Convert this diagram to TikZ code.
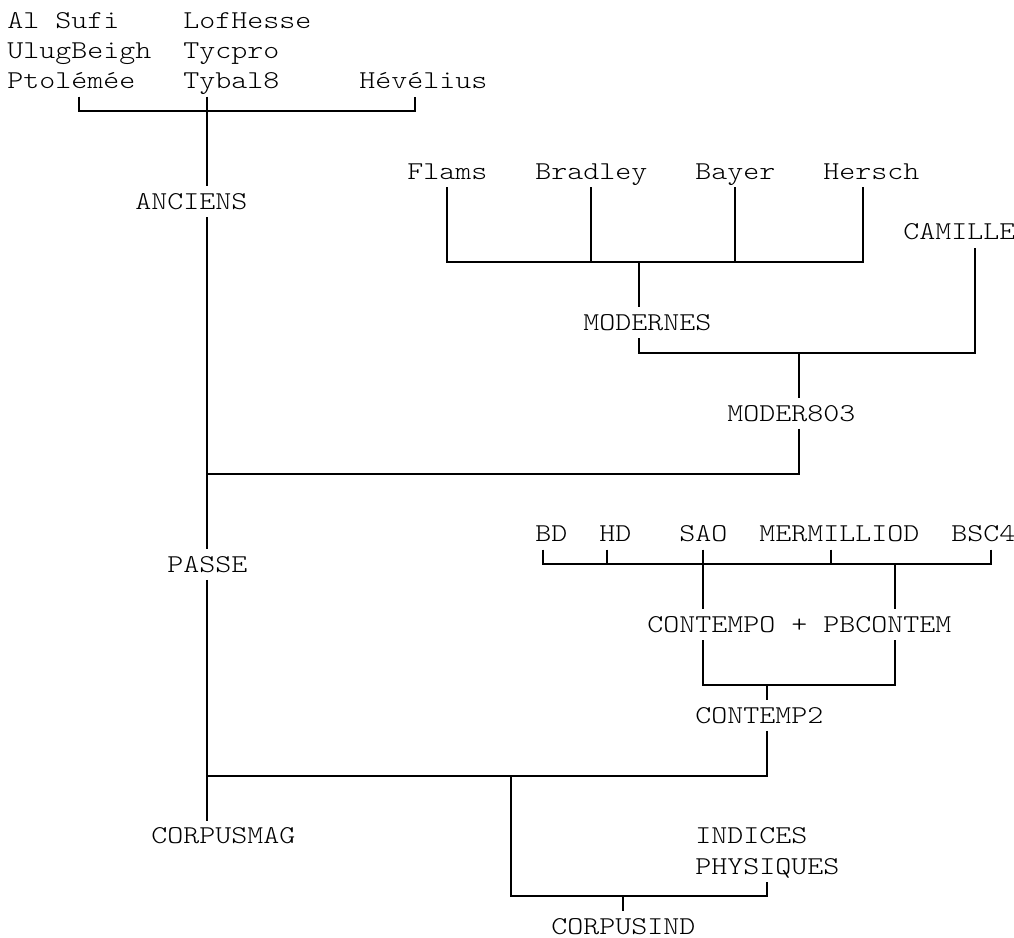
\documentclass[tikz,border=0pt]{standalone}
\usepackage{fontspec}
\usepackage{tikz}
\usetikzlibrary{
    positioning,
    calc
}
\newfontfamily\catfont{lmmonolt10-regular.otf}[FakeStretch=1.185]

\begin{document}
\begin{tikzpicture}[x=8pt, y={(0pt,-15.1pt)},
        catnode/.style={anchor=west, inner sep=0pt, minimum height=15.1pt,
            text height=7.85pt, text depth=0pt,
            font=\catfont\fontsize{12.85pt}{15.1pt}\selectfont},
        bar/.style={line width=1pt}]
        \useasboundingbox (-0.4375,-0.685) rectangle (62.9375,30.374);

        % catalogues anciens
        \foreach \n/\c/\r/\t in {alsufi/0/0/Al Sufi, ulug/0/1/UlugBeigh, ptol/0/2/Ptolémée,
                lof/11/0/LofHesse, tycpro/11/1/Tycpro, tybal/11/2/Tybal8, hev/22/2/Hévélius}
            \node[catnode] (\n) at (\c,\r) {\t};
        \node[catnode] (anc) at (8,6) {ANCIENS};

        % catalogues modernes
        \foreach \n/\c/\t in {flams/25/Flams, bradley/33/Bradley, bayer/43/Bayer, hersch/51/Hersch}
            \node[catnode] (\n) at (\c,5) {\t};
        \node[catnode] (camille) at (56,7) {CAMILLE};
        \node[catnode] (mod) at (36,10) {MODERNES};
        \node[catnode] (m803) at (45,13) {MODER803};
        \node[catnode] (passe) at (10,18) {PASSE};

        % catalogues contemporains
        \foreach \n/\c/\t in {bd/33/BD, hd/37/HD, sao/42/SAO, merm/47/MERMILLIOD, bsc/59/BSC4}
            \node[catnode] (\n) at (\c,17) {\t};
        \node[catnode] (contempo) at (40,20) {CONTEMPO};
        \node[catnode] (plus) at (49,20) {+};
        \node[catnode] (pbcontem) at (51,20) {PBCONTEM};
        \node[catnode] (cont2) at (43,23) {CONTEMP2};

        % corpus
        \node[catnode] (cmag) at (9,27) {CORPUSMAG};
        \node[catnode] (ind) at (43,27) {INDICES};
        \node[catnode] (phys) at (43,28) {PHYSIQUES};
        \node[catnode] (cind) at (34,30) {CORPUSIND};

        % ANCIENS
        \coordinate (jAnc) at (12.5,3);
        \draw[bar] ($(ptol.south west)+(4.5,0)$) |- (jAnc) -| ($(hev.south west)+(3.5,0)$);
        \draw[bar] ($(tybal.south west)+(1.5,0)$) -- (anc.north -| jAnc);

        % MODERNES
        \coordinate (jMod) at (39.5,8);
        \foreach \n/\d in {flams/2.5, bradley/3.5, bayer/2.5, hersch/2.5}
            \draw[bar] ($(\n.south west)+(\d,0)$) |- (jMod);
        \draw[bar] (jMod) -- (mod.north -| jMod);

        % MODER803
        \coordinate (jM803) at (49.5,11);
        \draw[bar] ($(mod.south west)+(3.5,0)$) |- (jM803) -| ($(camille.south west)+(4.5,0)$);
        \draw[bar] (jM803) -- (m803.north -| jM803);

        % PASSE
        \coordinate (jPas) at (12.5,15);
        \draw[bar] (anc.south -| jPas) -- (passe.north -| jPas);
        \draw[bar] ($(m803.south west)+(4.5,0)$) |- (jPas);

        % CONTEMPO + PBCONTEM
        \coordinate (jCon) at (43.5,18);
        \coordinate (jPbc) at (55.5,18);
        \foreach \n/\d in {bd/0.5, hd/0.5, merm/4.5, bsc/2.5}
            \draw[bar] ($(\n.south west)+(\d,0)$) |- (jCon);
        \draw[bar] ($(sao.south west)+(1.5,0)$) -- (contempo.north -| jCon);
        \draw[bar] (jPbc) -- (pbcontem.north -| jPbc);

        % CONTEMP2
        \coordinate (jCt2) at (47.5,22);
        \draw[bar] ($(contempo.south west)+(3.5,0)$) |- (jCt2) -| ($(pbcontem.south west)+(4.5,0)$);
        \draw[bar] (jCt2) -- (cont2.north -| jCt2);

        % CORPUSMAG et CORPUSIND
        \coordinate (jMag) at (12.5,25);
        \coordinate (jSplit) at (31.5,25);
        \coordinate (jInd) at (38.5,29);
        \draw[bar] (passe.south -| jMag) -- (cmag.north -| jMag);
        \draw[bar] ($(cont2.south west)+(4.5,0)$) |- (jMag);
        \draw[bar] (jSplit) |- (jInd) -| ($(phys.south west)+(4.5,0)$);
        \draw[bar] (jInd) -- (cind.north -| jInd);
    \end{tikzpicture}
\end{document}
